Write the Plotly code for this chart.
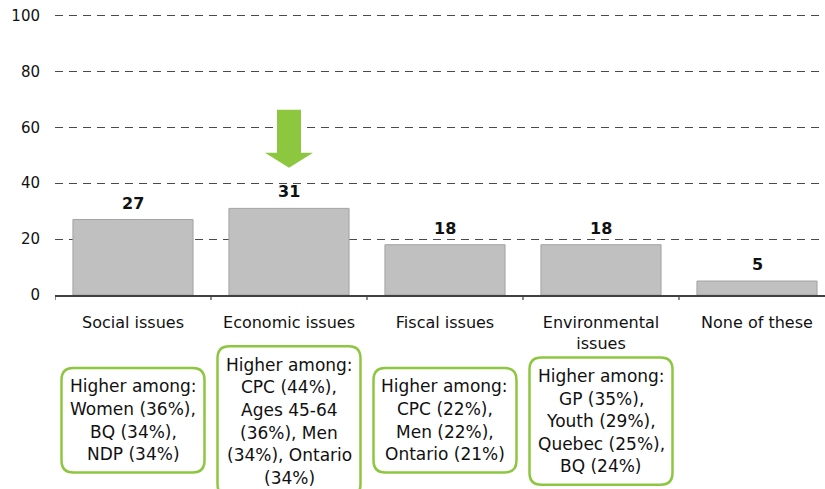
import plotly.graph_objects as go

categories = ["Social issues", "Economic issues", "Fiscal issues", "Environmental<br>issues", "None of these"]
values = [27, 31, 18, 18, 5]
y_ticks = [0, 20, 40, 60, 80, 100]
box_texts = [
    ["Higher among:", "Women (36%),", "BQ (34%),", "NDP (34%)"],
    ["Higher among:", "CPC (44%),", "Ages 45-64", "(36%), Men", "(34%), Ontario", "(34%)"],
    ["Higher among:", "CPC (22%),", "Men (22%),", "Ontario (21%)"],
    ["Higher among:", "GP (35%),", "Youth (29%),", "Quebec (25%),", "BQ (24%)"],
]
box_centers_px = [420, 421, 420, 421]   # vertical centre of each note box (px from top)
arrow_category = 1
arrow_y = [66.3, 50.9, 45.5]  # shaft top, head base, tip (data units)

W, H = 825, 489
Y_MAX = 102
PX_PER_UNIT = 2.79
ML = 55
MB = H - 295
plot_h = Y_MAX * PX_PER_UNIT
MT = H - MB - plot_h
PX_PER_CAT = 156
plot_w = W - ML
x_range = [-0.5, -0.5 + plot_w / PX_PER_CAT]
green = "#8DC63F"
font_family = "DejaVu Sans"
ink = "#111111"

fig = go.Figure()
fig.add_trace(go.Bar(
    x=list(range(len(categories))), y=values, width=0.77,
    marker=dict(color="#C0C0C0", line=dict(color="#A3A3A3", width=1)),
    hoverinfo="skip",
))
for i, v in enumerate(values):
    fig.add_annotation(x=i, y=v, xref="x", yref="y", text=f"<b>{v}</b>", showarrow=False,
                       yanchor="bottom", yshift=5,
                       font=dict(family=font_family, size=16, color=ink))

def xpaper(idx, dx_px=0):
    return ((idx - x_range[0]) * PX_PER_CAT + dx_px) / plot_w

def ypaper(py):
    return (H - MB - py) / plot_h

# note boxes
line_h = 22.6
for i, lines in enumerate(box_texts):
    n = len(lines)
    cy = box_centers_px[i]
    hh = (n * line_h + 14) / 2
    x0, x1 = xpaper(i, -71.5), xpaper(i, 71.5)
    top, bot = cy - hh, cy + hh
    r = 12
    rx = r / plot_w
    ry = r / plot_h
    y0, y1 = ypaper(bot), ypaper(top)
    path = (f"M {x0+rx},{y1} L {x1-rx},{y1} Q {x1},{y1} {x1},{y1-ry} "
            f"L {x1},{y0+ry} Q {x1},{y0} {x1-rx},{y0} L {x0+rx},{y0} "
            f"Q {x0},{y0} {x0},{y0+ry} L {x0},{y1-ry} Q {x0},{y1} {x0+rx},{y1} Z")
    fig.add_shape(type="path", path=path, xref="paper", yref="paper",
                  line=dict(color=green, width=2.5), fillcolor="white")
    for k, t in enumerate(lines):
        py = cy + (k - (n - 1) / 2) * line_h
        fig.add_annotation(x=xpaper(i), y=ypaper(py), xref="paper", yref="paper",
                           text=t, showarrow=False, xanchor="center", yanchor="middle",
                           font=dict(family=font_family, size=17, color=ink))

# green arrow
c = arrow_category
sw, hw = 12 / PX_PER_CAT, 24 / PX_PER_CAT
top, base, tip = arrow_y
arrow_path = (f"M {c-sw},{top} L {c+sw},{top} L {c+sw},{base} L {c+hw},{base} "
              f"L {c},{tip} L {c-hw},{base} L {c-sw},{base} Z")
fig.add_shape(type="path", path=arrow_path, xref="x", yref="y",
              line=dict(width=0), fillcolor=green)

fig.update_layout(
    width=W, height=H, margin=dict(l=ML, r=0, t=MT, b=MB, autoexpand=False),
    plot_bgcolor="white", paper_bgcolor="white", showlegend=False,
    font=dict(family=font_family, size=15, color=ink),
)
fig.update_xaxes(
    range=x_range, tickmode="array", tickvals=list(range(len(categories))),
    ticktext=categories, showgrid=False, showline=True, linecolor="#404040", linewidth=1.5,
    ticks="", tickfont=dict(family=font_family, size=16, color=ink),
    zeroline=False, ticklabelstandoff=12, automargin=False,
)
# boundary tick marks
for b in range(len(categories) + 1):
    fig.add_shape(type="line", xref="x", yref="paper", x0=b - 0.5, x1=b - 0.5,
                  y0=0, y1=-5 / plot_h, line=dict(color="#404040", width=1.2))
fig.update_yaxes(
    range=[0, Y_MAX], tickvals=y_ticks, showgrid=True, gridcolor="#4a4a4a", gridwidth=1,
    griddash="8px,6px", zeroline=False, showline=False, ticks="",
    tickfont=dict(family=font_family, size=15, color=ink), ticklabelstandoff=14,
    automargin=False,
)
fig.write_html("out.html", config={"displayModeBar": False},
               post_script="document.body.style.margin='0';")
